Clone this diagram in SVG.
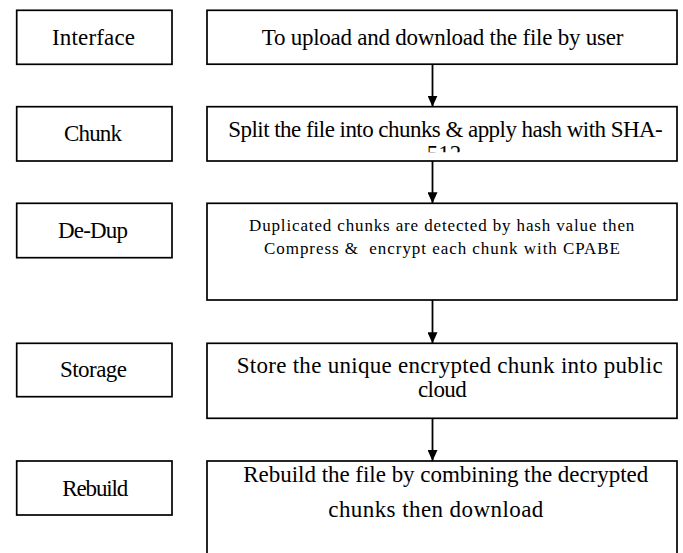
<svg xmlns="http://www.w3.org/2000/svg" width="683" height="553" viewBox="0 0 683 553">
<style>
.box{fill:#fff;stroke:#000;stroke-width:1.7}
.t{font-family:'Liberation Serif','DejaVu Serif',serif;font-size:23px;fill:#000}
.s{font-family:'Liberation Serif','DejaVu Serif',serif;font-size:17px;fill:#000}
.c{stroke:#000;stroke-width:1.8;fill:none}
</style>
<defs>
<marker id="ah" viewBox="0 0 11 10" refX="11" refY="5" markerWidth="11" markerHeight="10" markerUnits="userSpaceOnUse" orient="auto">
<path d="M0,0 L11,5 L0,10 z" fill="#000"/>
</marker>
<clipPath id="clip2"><rect x="207" y="106.7" width="470" height="45.5"/></clipPath>
</defs>
<rect width="683" height="553" fill="#fff"/>
<g id="connectors">
<line class="c" x1="432.5" y1="64.2" x2="432.5" y2="106.7" marker-end="url(#ah)"/>
<line class="c" x1="432.5" y1="161" x2="432.5" y2="203.3" marker-end="url(#ah)"/>
<line class="c" x1="432.5" y1="300" x2="432.5" y2="343.3" marker-end="url(#ah)"/>
<line class="c" x1="432.5" y1="418.3" x2="432.5" y2="461" marker-end="url(#ah)"/>
</g>
<g id="interface">
<rect class="box" x="16.7" y="10.3" width="155.3" height="54"/>
<text class="t" x="52" y="45" textLength="83">Interface</text>
</g>
<g id="upload">
<rect class="box" x="207" y="10.3" width="470" height="53.9"/>
<text class="t" x="261.7" y="45" textLength="361.6">To upload and download the file by user</text>
</g>
<g id="chunk">
<rect class="box" x="16.7" y="106.7" width="155.3" height="54.3"/>
<text class="t" x="64" y="141" textLength="58">Chunk</text>
</g>
<g id="split">
<rect class="box" x="207" y="106.7" width="470" height="54.3"/>
<g clip-path="url(#clip2)">
<text class="t" x="228.3" y="136.7" textLength="434.4">Split the file into chunks &amp; apply hash with SHA-</text>
<text class="t" x="444" y="161.3" text-anchor="middle">512</text>
</g>
</g>
<g id="dedup">
<rect class="box" x="16.7" y="203.3" width="155.3" height="54.4"/>
<text class="t" x="58" y="237.7" textLength="70">De-Dup</text>
</g>
<g id="detect">
<rect class="box" x="207" y="203.3" width="470" height="96.7"/>
<text class="s" x="249" y="230.7" textLength="385.3">Duplicated chunks are detected by hash value then</text>
<text class="s" x="264" y="254.3" textLength="356" xml:space="preserve">Compress &amp;  encrypt each chunk with CPABE</text>
</g>
<g id="storage">
<rect class="box" x="16.7" y="343.3" width="155.3" height="53.4"/>
<text class="t" x="60" y="376.7" textLength="67">Storage</text>
</g>
<g id="store">
<rect class="box" x="207" y="343.3" width="470" height="75"/>
<text class="t" x="236.7" y="372.7" textLength="426">Store the unique encrypted chunk into public</text>
<text class="t" x="418" y="397.3" textLength="48.7">cloud</text>
</g>
<g id="rebuild">
<rect class="box" x="16.7" y="461" width="155.3" height="54"/>
<text class="t" x="62.3" y="496" textLength="66">Rebuild</text>
</g>
<g id="combine">
<rect class="box" x="207" y="461" width="470" height="110"/>
<text class="t" x="243.3" y="481.7" textLength="405">Rebuild the file by combining the decrypted</text>
<text class="t" x="328.3" y="516.7" textLength="215">chunks then download</text>
</g>
</svg>
